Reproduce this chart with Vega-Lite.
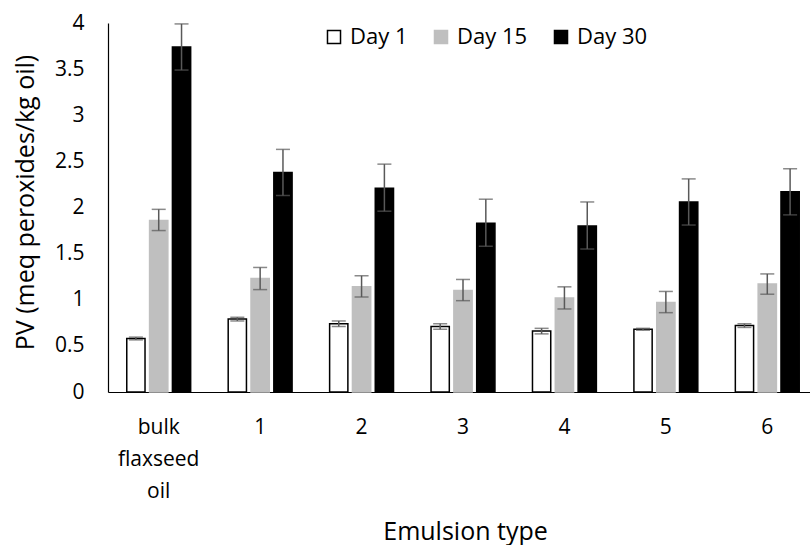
{
  "$schema": "https://vega.github.io/schema/vega-lite/v6.json",
  "autosize": {"type": "none"},
  "padding": {"left": 108, "top": 23, "right": 0, "bottom": 153},
  "width": 702,
  "height": 369,
  "background": "white",
  "data": {
    "values": [
      {"type": "bulk flaxseed oil", "day": "Day 1", "pv": 0.58, "lo": 0.565, "hi": 0.595},
      {"type": "bulk flaxseed oil", "day": "Day 15", "pv": 1.86, "lo": 1.75, "hi": 1.98},
      {"type": "bulk flaxseed oil", "day": "Day 30", "pv": 3.74, "lo": 3.49, "hi": 3.99},
      {"type": "1", "day": "Day 1", "pv": 0.79, "lo": 0.77, "hi": 0.81},
      {"type": "1", "day": "Day 15", "pv": 1.23, "lo": 1.11, "hi": 1.35},
      {"type": "1", "day": "Day 30", "pv": 2.38, "lo": 2.13, "hi": 2.63},
      {"type": "2", "day": "Day 1", "pv": 0.74, "lo": 0.71, "hi": 0.77},
      {"type": "2", "day": "Day 15", "pv": 1.14, "lo": 1.03, "hi": 1.26},
      {"type": "2", "day": "Day 30", "pv": 2.21, "lo": 1.96, "hi": 2.47},
      {"type": "3", "day": "Day 1", "pv": 0.71, "lo": 0.68, "hi": 0.74},
      {"type": "3", "day": "Day 15", "pv": 1.10, "lo": 0.99, "hi": 1.22},
      {"type": "3", "day": "Day 30", "pv": 1.83, "lo": 1.58, "hi": 2.09},
      {"type": "4", "day": "Day 1", "pv": 0.66, "lo": 0.63, "hi": 0.69},
      {"type": "4", "day": "Day 15", "pv": 1.02, "lo": 0.90, "hi": 1.14},
      {"type": "4", "day": "Day 30", "pv": 1.80, "lo": 1.55, "hi": 2.06},
      {"type": "5", "day": "Day 1", "pv": 0.68, "lo": 0.67, "hi": 0.69},
      {"type": "5", "day": "Day 15", "pv": 0.97, "lo": 0.86, "hi": 1.09},
      {"type": "5", "day": "Day 30", "pv": 2.06, "lo": 1.81, "hi": 2.31},
      {"type": "6", "day": "Day 1", "pv": 0.72, "lo": 0.70, "hi": 0.74},
      {"type": "6", "day": "Day 15", "pv": 1.17, "lo": 1.06, "hi": 1.28},
      {"type": "6", "day": "Day 30", "pv": 2.17, "lo": 1.92, "hi": 2.42}
    ]
  },
  "encoding": {
    "x": {
      "field": "type",
      "type": "nominal",
      "sort": null,
      "scale": {"range": [0, 710], "paddingInner": 0.37, "paddingOuter": 0.185},
      "axis": {
        "title": "Emulsion type",
        "titleFont": "Open Sans",
        "titleFontSize": 25,
        "titleFontWeight": "normal",
        "titleColor": "#000000",
        "titleX": 357,
        "titleY": 147,
        "titleBaseline": "alphabetic",
        "labelAngle": 0,
        "labelFont": "Open Sans",
        "labelFontSize": 21,
        "labelColor": "#000000",
        "labelPadding": 24,
        "labelLineHeight": 32,
        "labelExpr": "datum.value == 'bulk flaxseed oil' ? ['bulk', 'flaxseed', 'oil'] : datum.label",
        "ticks": false,
        "tickSize": 0,
        "domainColor": "#000000",
        "domainWidth": 1.2,
        "grid": false
      }
    },
    "xOffset": {
      "field": "day",
      "type": "nominal",
      "scale": {"domain": ["Day 1", "Day 15", "Day 30"], "paddingInner": 0.2}
    }
  },
  "layer": [
    {
      "mark": {"type": "bar", "strokeWidth": 1.5},
      "encoding": {
        "y": {
          "field": "pv",
          "type": "quantitative",
          "scale": {"domain": [0, 4], "nice": false},
          "axis": {
            "title": "PV (meq peroxides/kg oil)",
            "titleFont": "Open Sans",
            "titleFontSize": 25,
            "titleFontWeight": "normal",
            "titleColor": "#000000",
            "titleAngle": -90,
            "titleX": -83,
            "titleY": 179,
            "titleAlign": "center",
            "titleBaseline": "middle",
            "values": [0, 0.5, 1, 1.5, 2, 2.5, 3, 3.5, 4],
            "format": "~g",
            "labelFont": "Open Sans",
            "labelFontSize": 21,
            "labelColor": "#000000",
            "labelPadding": 24,
            "ticks": false,
            "tickSize": 0,
            "domainColor": "#000000",
            "domainWidth": 1.2,
            "grid": false
          }
        },
        "fill": {
          "field": "day",
          "type": "nominal",
          "scale": {"domain": ["Day 1", "Day 15", "Day 30"], "range": ["#FFFFFF", "#BFBFBF", "#000000"]},
          "legend": {
            "title": null,
            "orient": "none",
            "direction": "horizontal",
            "legendX": 215,
            "legendY": 3,
            "padding": 0,
            "symbolType": "square",
            "symbolSize": 170,
            "symbolStrokeWidth": 1.5,
            "labelFont": "Open Sans",
            "labelFontSize": 22,
            "labelColor": "#000000",
            "labelOffset": 5,
            "columnPadding": 22
          }
        },
        "stroke": {
          "field": "day",
          "type": "nominal",
          "scale": {"domain": ["Day 1", "Day 15", "Day 30"], "range": ["#000000", "#BFBFBF", "#000000"]},
          "legend": {
            "title": null,
            "orient": "none",
            "direction": "horizontal",
            "legendX": 215,
            "legendY": 3,
            "padding": 0,
            "symbolType": "square",
            "symbolSize": 170,
            "symbolStrokeWidth": 1.5,
            "labelFont": "Open Sans",
            "labelFontSize": 22,
            "labelColor": "#000000",
            "labelOffset": 5,
            "columnPadding": 22
          }
        }
      }
    },
    {
      "mark": {"type": "rule", "color": "#595959", "strokeWidth": 1.5},
      "encoding": {
        "y": {"field": "lo", "type": "quantitative"},
        "y2": {"field": "hi"}
      }
    },
    {
      "mark": {"type": "tick", "color": "#595959", "thickness": 1.5, "size": 14},
      "encoding": {
        "y": {"field": "lo", "type": "quantitative"}
      }
    },
    {
      "mark": {"type": "tick", "color": "#595959", "thickness": 1.5, "size": 14},
      "encoding": {
        "y": {"field": "hi", "type": "quantitative"}
      }
    }
  ],
  "config": {
    "view": {"stroke": null},
    "font": "Open Sans"
  }
}
